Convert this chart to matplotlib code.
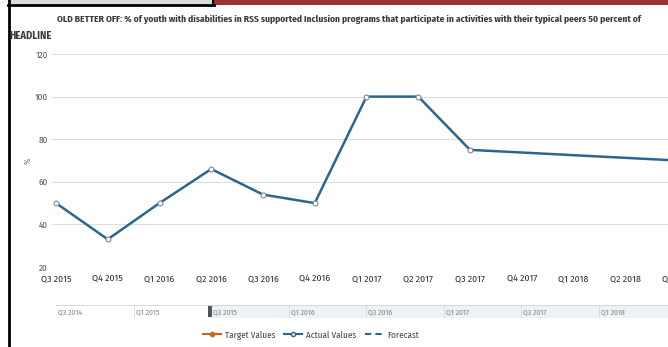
import matplotlib
matplotlib.use("Agg")
import matplotlib.pyplot as plt
from matplotlib import font_manager
from matplotlib.patches import Rectangle
from matplotlib.lines import Line2D

quarters = ["Q3 2015", "Q4 2015", "Q1 2016", "Q2 2016", "Q3 2016", "Q4 2016",
            "Q1 2017", "Q2 2017", "Q3 2017", "Q4 2017", "Q1 2018", "Q2 2018", "Q3 2018"]
actual_values = [50, 33, 50, 66, 54, 50, 100, 100, 75]
forecast_quarters = ["Q3 2017", "Q3 2018"]
forecast_values = [75, 70]
y_ticks = [20, 40, 60, 80, 100, 120]
nav_labels = ["Q3 2014", "Q1 2015", "Q3 2015", "Q1 2016", "Q3 2016", "Q1 2017", "Q3 2017", "Q1 2018"]
title = ("OLD BETTER OFF: % of youth with disabilities in RSS supported Inclusion programs "
         "that participate in activities with their typical peers 50 percent of")

fonts = {}
for f in font_manager.fontManager.ttflist:
    if f.style == 'normal':
        try:
            wt = int(f.weight)
        except Exception:
            wt = {'normal': 400, 'regular': 400, 'bold': 700}.get(str(f.weight), 400)
        fonts.setdefault(f.name, set()).add(wt)
prefs = ['Source Sans Pro', 'Source Sans 3', 'Fira Sans Condensed', 'Roboto Condensed',
         'PT Sans Narrow', 'Liberation Sans Narrow', 'Open Sans Condensed', 'Liberation Sans']
main_font = 'DejaVu Sans'
for p in prefs:
    ws = fonts.get(p, set())
    if 400 in ws and (600 in ws or 700 in ws):
        main_font = p
        break
plt.rcParams['font.family'] = [main_font, 'DejaVu Sans']

W, H = 668, 347
fig = plt.figure(figsize=(W / 100, H / 100), dpi=100)

def px_axes(x0, y0, x1, y1, **kw):
    return fig.add_axes([x0 / W, 1 - y1 / H, (x1 - x0) / W, (y1 - y0) / H], **kw)

line_color = "#2a6790"

ax = px_axes(52, 54, 700, 267)
xi = list(range(len(quarters)))
step = 51.75
ax.set_xlim(-4 / step, (700 - 56) / step)
ax.set_ylim(20, 120)
ax.set_yticks(y_ticks)
ax.set_yticklabels([str(v) for v in y_ticks])
ax.set_xticks(xi)
ax.set_xticklabels(quarters)
ax.grid(axis='y', color="#dddddd", lw=0.8)
ax.set_axisbelow(True)
for s in ax.spines.values():
    s.set_visible(False)
ax.tick_params(axis='y', length=0, pad=3, labelsize=6.5, labelcolor="#555555")
ax.tick_params(axis='x', length=0, pad=5, labelsize=7, labelcolor="#333333")
ax.set_ylabel("%", fontsize=6, color="#777777")
ax.yaxis.set_label_coords((32 - 52) / 648, 0.5)

fx = [quarters.index(q) for q in forecast_quarters]
ax.plot(fx, forecast_values, color=line_color, lw=1.8, solid_capstyle='butt', zorder=3)
ax.plot(xi[:len(actual_values)], actual_values, color=line_color, lw=1.8, zorder=4,
        marker='o', ms=3.5, mfc='white', mec='#888888', mew=0.8)

# navigator
nav = px_axes(56, 305, 668, 318)
nstep = 38.75
nav.set_xlim(0, (668 - 56) / nstep)
nav.set_ylim(0, 1)
nav.axis('off')
nav.add_patch(Rectangle(((211 - 56) / nstep, 0), (668 - 211) / nstep, 1,
                        facecolor="#eef2f5", edgecolor='none', zorder=0))
nav.axhline(1, color="#d0d4d8", lw=1.2, zorder=2)
for i, lab in enumerate(nav_labels):
    xq = i * 2
    if i > 0:
        nav.axvline(xq, color="#d8dadc", lw=0.6, zorder=1)
    nav.text(xq + 0.06, 0.45, lab, fontsize=5.5, color="#808080", va='center', ha='left')
nav.add_patch(Rectangle((4 - 0.08, 0.1), 0.1, 0.8, facecolor="#555555", edgecolor='none', zorder=3))

handles = [
    Line2D([], [], color="#c8641e", lw=1.5, marker='o', ms=3, mfc="#c8641e", mec="#c8641e"),
    Line2D([], [], color=line_color, lw=1.5, marker='o', ms=3, mfc='white', mec=line_color),
    Line2D([], [], color=line_color, lw=1.5, ls=(0, (3, 2))),
]
fig.legend(handles, ["Target Values", "Actual Values", "Forecast"],
           loc='center', bbox_to_anchor=(311 / W, 1 - 335 / H), ncol=3, frameon=False,
           fontsize=6.5, handlelength=2.0, columnspacing=1.0, handletextpad=0.4,
           labelcolor="#444444")

t = fig.text(57 / W, 1 - 20 / H, title, fontsize=7.5, fontweight='bold', color="#3a3a3a",
             va='center', ha='left')
fig.text(9 / W, 1 - 36 / H, "HEADLINE", fontsize=7.5, fontweight='bold', color="#3a3a3a",
         va='center', ha='left')

fig.canvas.draw()
r = fig.canvas.get_renderer()
w = t.get_window_extent(r).width
t.set_fontsize(7.5 * 580 / w)

fig.add_artist(Rectangle((10 / W, 1 - 4 / H), 202 / W, 4 / H, transform=fig.transFigure,
                         facecolor="#dddddd", edgecolor='none'))
fig.add_artist(Rectangle((214 / W, 1 - 5 / H), (668 - 214) / W, 5 / H, transform=fig.transFigure,
                         facecolor="#993333", edgecolor='none'))
fig.add_artist(Line2D([8 / W, 214 / W], [1 - 5 / H, 1 - 5 / H], transform=fig.transFigure,
                      color='black', lw=2))
fig.add_artist(Line2D([213 / W, 213 / W], [1, 1 - 5 / H], transform=fig.transFigure,
                      color='black', lw=1.5))
fig.add_artist(Line2D([9 / W, 9 / W], [0, 1], transform=fig.transFigure, color='black', lw=2))

fig.savefig("out.png", dpi=100)
